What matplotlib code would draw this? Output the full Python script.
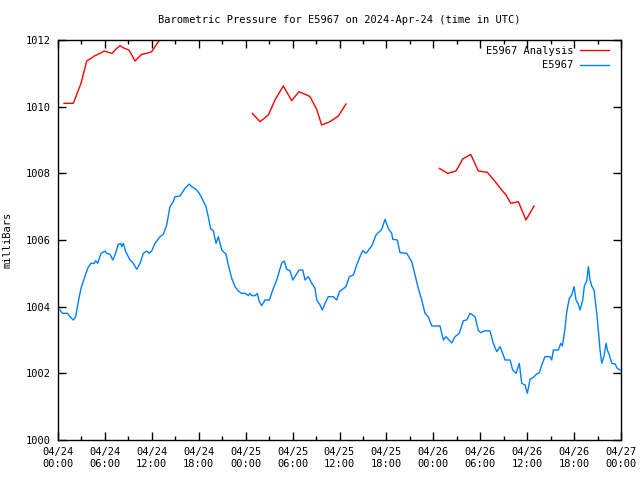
import matplotlib
matplotlib.use("Agg")
import matplotlib.pyplot as plt
from matplotlib.ticker import MultipleLocator

# hours since 2024-04-24 00:00 UTC
analysis_t1 = [0.77, 1.96, 2.94, 3.67, 4.22, 4.73, 5.37, 5.92, 6.43, 6.94, 7.42,
               7.93, 8.48, 9.08, 9.85, 10.7, 11.34, 11.98, 12.4, 12.9]
analysis_p1 = [1010.10, 1010.10, 1010.70, 1011.37, 1011.45, 1011.53, 1011.60,
               1011.67, 1011.63, 1011.60, 1011.73, 1011.83, 1011.75, 1011.70,
               1011.37, 1011.57, 1011.60, 1011.65, 1011.80, 1011.97]
analysis_t2 = [24.85, 25.83, 26.9, 27.75, 28.81, 29.89, 30.82, 31.8, 32.23,
               33.08, 33.72, 34.78, 35.85, 36.83]
analysis_p2 = [1009.80, 1009.55, 1009.75, 1010.20, 1010.62, 1010.18, 1010.45,
               1010.35, 1010.30, 1009.92, 1009.45, 1009.55, 1009.72, 1010.08]
analysis_t3 = [48.77, 49.84, 50.9, 51.76, 52.78, 53.75, 54.9, 55.67, 56.75,
               57.3, 57.9, 58.87, 59.85, 60.88]
analysis_p3 = [1008.15, 1008.00, 1008.07, 1008.43, 1008.57, 1008.07, 1008.03,
               1007.82, 1007.50, 1007.35, 1007.10, 1007.15, 1006.60, 1007.02]

obs_t = [0.26, 0.55, 1.24, 1.53, 1.96, 2.26, 2.60, 2.94, 3.36, 3.80, 4.22, 4.64,
         4.82, 5.08, 5.50, 6.01, 6.23, 6.65, 7.00, 7.29, 7.71, 8.02, 8.15, 8.35,
         8.66, 9.21, 9.63, 10.07, 10.49, 10.91, 11.34, 11.64, 11.98, 12.41,
         13.05, 13.47, 13.90, 14.32, 14.75, 14.96, 15.60, 16.24, 16.79, 17.10,
         17.65, 18.07, 18.51, 18.93, 19.22, 19.53, 19.86, 20.21, 20.50, 20.94,
         21.49, 21.78, 22.22, 22.64, 23.06, 23.49, 23.92, 24.34, 24.56, 24.77,
         25.20, 25.49, 25.74, 26.05, 26.47, 27.02, 27.54, 27.97, 28.61, 28.94,
         29.25, 29.67, 30.02, 30.44, 30.82, 31.30, 31.59, 32.01, 32.45, 32.87,
         33.09, 33.51, 33.80, 34.15, 34.57, 35.21, 35.64, 35.98, 36.83, 37.26,
         37.77, 38.20, 38.62, 38.97, 39.39, 40.12, 40.67, 41.40, 41.82, 42.24,
         42.68, 42.81, 43.39, 43.74, 44.60, 45.24, 45.66, 46.08, 46.52, 46.94,
         47.36, 47.80, 48.85, 49.28, 49.62, 50.35, 50.77, 51.32, 51.84, 52.27,
         52.69, 53.33, 53.75, 54.06, 54.61, 55.25, 55.67, 56.11, 56.53, 56.87,
         57.17, 57.81, 58.15, 58.58, 59.00, 59.30, 59.73, 60.02, 60.37, 60.79,
         61.22, 61.56, 61.86, 62.28, 62.92, 63.14, 63.35, 63.99, 64.29, 64.50,
         64.84, 65.06, 65.39, 65.70, 66.00, 66.25, 66.54, 66.76, 67.11, 67.31,
         67.62, 67.83, 68.04, 68.26, 68.55, 68.90, 69.10, 69.32, 69.54, 69.83,
         70.09, 70.26, 70.51, 70.82, 71.24, 71.53, 71.88]
obs_p = [1003.90, 1003.80, 1003.80, 1003.70, 1003.60, 1003.70, 1004.15, 1004.55,
         1004.85, 1005.15, 1005.30, 1005.30, 1005.38, 1005.30, 1005.60, 1005.67,
         1005.60, 1005.57, 1005.40, 1005.55, 1005.87, 1005.90, 1005.80, 1005.90,
         1005.65, 1005.40, 1005.30, 1005.12, 1005.30, 1005.60, 1005.67, 1005.60,
         1005.67, 1005.90, 1006.10, 1006.17, 1006.45, 1007.00, 1007.15, 1007.30,
         1007.32, 1007.55, 1007.68, 1007.60, 1007.52, 1007.40, 1007.20, 1007.00,
         1006.70, 1006.33, 1006.28, 1005.90, 1006.10, 1005.70, 1005.57, 1005.25,
         1004.85, 1004.60, 1004.47, 1004.40, 1004.40, 1004.33, 1004.40, 1004.33,
         1004.33, 1004.40, 1004.15, 1004.03, 1004.20, 1004.20, 1004.55, 1004.80,
         1005.31, 1005.37, 1005.12, 1005.08, 1004.80, 1004.95, 1005.10, 1005.10,
         1004.80, 1004.90, 1004.70, 1004.55, 1004.20, 1004.05, 1003.90, 1004.10,
         1004.30, 1004.30, 1004.20, 1004.45, 1004.60, 1004.90, 1004.95, 1005.25,
         1005.50, 1005.68, 1005.60, 1005.82, 1006.15, 1006.32, 1006.62, 1006.35,
         1006.20, 1006.02, 1006.00, 1005.62, 1005.60, 1005.35, 1004.95, 1004.55,
         1004.20, 1003.80, 1003.69, 1003.42, 1003.42, 1003.00, 1003.10, 1002.91,
         1003.10, 1003.20, 1003.58, 1003.60, 1003.80, 1003.70, 1003.29, 1003.22,
         1003.28, 1003.27, 1002.90, 1002.65, 1002.80, 1002.60, 1002.40, 1002.40,
         1002.10, 1002.00, 1002.30, 1001.70, 1001.65, 1001.40, 1001.82, 1001.88,
         1001.98, 1002.02, 1002.25, 1002.50, 1002.50, 1002.40, 1002.70, 1002.70,
         1002.90, 1002.82, 1003.35, 1003.85, 1004.25, 1004.35, 1004.60, 1004.20,
         1004.07, 1003.90, 1004.20, 1004.62, 1004.77, 1005.20, 1004.80, 1004.62,
         1004.50, 1003.80, 1003.30, 1002.70, 1002.30, 1002.52, 1002.90, 1002.70,
         1002.55, 1002.30, 1002.28, 1002.15, 1002.10]

x_ticks = list(range(0, 73, 6))
x_labels = ["04/24\n00:00", "04/24\n06:00", "04/24\n12:00", "04/24\n18:00",
            "04/25\n00:00", "04/25\n06:00", "04/25\n12:00", "04/25\n18:00",
            "04/26\n00:00", "04/26\n06:00", "04/26\n12:00", "04/26\n18:00",
            "04/27\n00:00"]

RED = "#ff0000"
BLUE = "#0080ff"

plt.rcParams.update({
    "font.family": "DejaVu Sans Mono",
    "font.size": 7.5,
})

fig = plt.figure(figsize=(6.4, 4.8), dpi=100)
ax = fig.add_axes([58 / 640, 40 / 480, 563 / 640, 400 / 480])

ax.plot(analysis_t1, analysis_p1, color=RED, lw=1, label="E5967 Analysis")
ax.plot(analysis_t2, analysis_p2, color=RED, lw=1)
ax.plot(analysis_t3, analysis_p3, color=RED, lw=1)
ax.plot(obs_t, obs_p, color=BLUE, lw=1, label="E5967")

ax.set_xlim(0, 72)
ax.set_ylim(1000, 1012)
ax.set_xticks(x_ticks)
ax.set_xticklabels(x_labels)
ax.xaxis.set_minor_locator(MultipleLocator(3))
ax.set_yticks(range(1000, 1013, 2))
ax.tick_params(which="both", direction="in", top=True, right=True, width=1,
               pad=5)
ax.tick_params(which="major", length=6)
ax.tick_params(which="minor", length=3)
for s in ax.spines.values():
    s.set_linewidth(1)

ax.set_title("Barometric Pressure for E5967 on 2024-Apr-24 (time in UTC)",
             fontsize=7.5, pad=12)
ax.set_ylabel("milliBars", labelpad=10)

ax.legend(loc="upper right", bbox_to_anchor=(1 - 12 / 563, 1 - 6 / 400),
          frameon=False, markerfirst=False,
          handlelength=2.8, handletextpad=0.6, labelspacing=0.4,
          borderaxespad=0, borderpad=0)

fig.savefig("out.png", dpi=100)
